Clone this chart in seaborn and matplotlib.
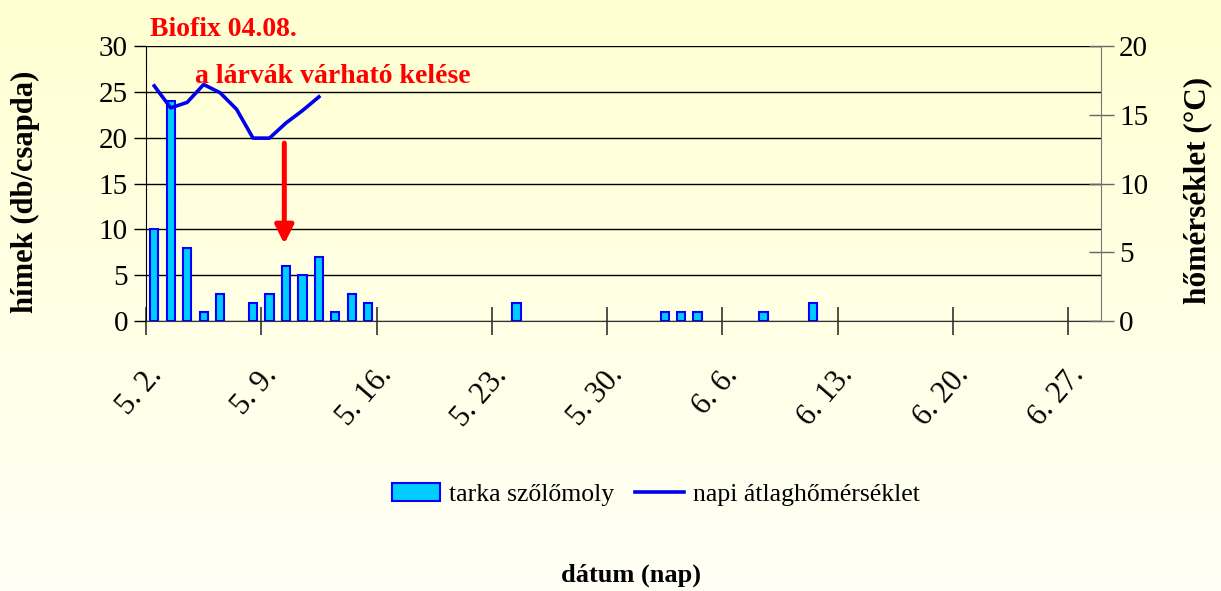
import numpy as np
import pandas as pd
import seaborn as sns
import matplotlib.pyplot as plt
from matplotlib.patches import Patch
from matplotlib.lines import Line2D

plt.rcParams['font.family'] = ['Liberation Serif', 'DejaVu Serif']

start = pd.Timestamp('2008-05-02')

# tarka szőlőmoly fogások (db/csapda)
catch_dates = ['05-02', '05-03', '05-04', '05-05', '05-06', '05-08', '05-09',
               '05-10', '05-11', '05-12', '05-13', '05-14', '05-15', '05-24',
               '06-02', '06-03', '06-04', '06-08', '06-11']
catch_values = [10, 24, 8, 1, 3, 2, 3, 6, 5, 7, 1, 3, 2, 2, 1, 1, 1, 1, 2]

# napi átlaghőmérséklet (°C)
temp_dates = ['05-02', '05-03', '05-04', '05-05', '05-06', '05-07', '05-08',
              '05-09', '05-10', '05-11', '05-12']
temp_values = [17.1, 15.5, 15.9, 17.2, 16.6, 15.4, 13.3, 13.3, 14.4, 15.3, 16.3]

tick_labels = ['5. 2.', '5. 9.', '5. 16.', '5. 23.', '5. 30.',
               '6. 6.', '6. 13.', '6. 20.', '6. 27.']


def day_pos(dates):
    # day index from 5.2., bars sit in the middle of the day
    return np.array([(pd.Timestamp('2008-' + d) - start).days + 0.5 for d in dates])


catch_x = day_pos(catch_dates)
temp_x = day_pos(temp_dates)

fig = plt.figure(figsize=(12.21, 5.91), dpi=100)

# cream gradient background
bg = fig.add_axes([0, 0, 1, 1], zorder=-10)
grad = np.linspace(0, 1, 256).reshape(-1, 1)
top = np.array([255, 255, 210]) / 255
bot = np.array([255, 255, 246]) / 255
img = top + (bot - top) * grad[..., None]
bg.imshow(img, aspect='auto', extent=[0, 1, 0, 1])
bg.axis('off')

ax = fig.add_axes([146 / 1221, 1 - 321 / 591, 955 / 1221, 275 / 591])
ax.set_facecolor('none')

sns.barplot(x=catch_x, y=catch_values, native_scale=True, width=0.5,
            color='#00CCFF', saturation=1, edgecolor='#0000FF', linewidth=1.5,
            errorbar=None, ax=ax, zorder=3)

ax.set_xlim(0, 58)
ax.set_ylim(0, 30)
ax.set_yticks(range(0, 31, 5))
ax.set_xticks(range(0, 57, 7))
ax.set_xticklabels(tick_labels, rotation=49, ha='right', va='top',
                   rotation_mode='anchor')
ax.yaxis.grid(True, color='black', lw=1)
ax.set_axisbelow(True)
ax.tick_params(axis='y', direction='out', length=9, width=1, labelsize=21, pad=4)
ax.tick_params(axis='x', direction='inout', length=20, width=1.2,
               color='#333333', labelsize=22, pad=19)
for s in ['top', 'right']:
    ax.spines[s].set_visible(False)
ax.spines['left'].set_color('black')
ax.spines['bottom'].set_color('#333333')
ax.set_xlabel('')
ax.set_ylabel('hímek (db/csapda)', fontsize=22, fontweight='bold')
ax.yaxis.set_label_coords(-0.111, 0.47)

ax2 = ax.twinx()
sns.lineplot(x=temp_x, y=temp_values, ax=ax2, color='#0000EE', lw=2.6)
ax2.set_ylim(0, 20)
ax2.set_yticks(range(0, 21, 5))
ax2.tick_params(axis='y', direction='inout', length=18, width=1,
                color='#666666', labelsize=21, pad=4)
for s in ['top', 'left', 'bottom']:
    ax2.spines[s].set_visible(False)
ax2.spines['right'].set_color('#777777')
ax2.set_ylabel('hőmérséklet (°C)', fontsize=22.5, fontweight='bold')
ax2.yaxis.set_label_coords(1.086, 0.475)

# annotations
ax2.text(0.004, 1.036, 'Biofix 04.08.', transform=ax.transAxes, color='red',
         fontsize=20, fontweight='bold', va='baseline', ha='left')
ax2.text(0.051, 0.865, 'a lárvák várható kelése', transform=ax.transAxes,
         color='red', fontsize=20, fontweight='bold', va='baseline', ha='left')
ax.annotate('', xy=(8.4, 8.4), xytext=(8.4, 19.4),
            arrowprops=dict(arrowstyle='-|>,head_length=1.1,head_width=0.55',
                            color='red', lw=3.6, shrinkA=0, shrinkB=0))

handles = [Patch(facecolor='#00CCFF', edgecolor='#0000FF', lw=1.5),
           Line2D([], [], color='#0000EE', lw=2.6)]
fig.legend(handles, ['tarka szőlőmoly', 'napi átlaghőmérséklet'],
           loc='center', bbox_to_anchor=(0.537, 0.164), ncol=2, frameon=False,
           fontsize=18.5, handlelength=1.9, handletextpad=0.35,
           columnspacing=0.8)

fig.text(631 / 1221, 1 - 575 / 591, 'dátum (nap)', fontsize=19,
         fontweight='bold', ha='center', va='center')

fig.savefig('out.png', dpi=100)
